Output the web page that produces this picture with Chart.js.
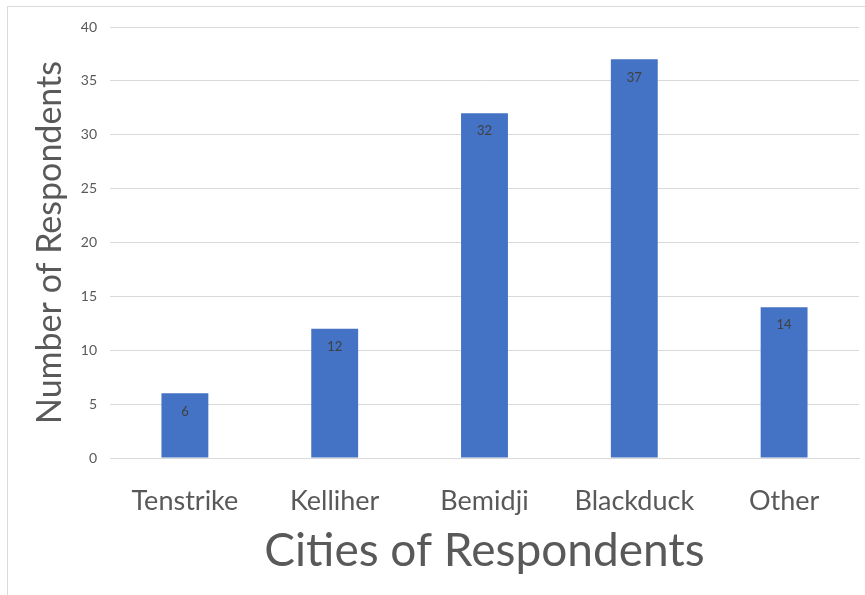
<!DOCTYPE html>
<html>
<head>
<meta charset="utf-8">
<script src="https://cdn.jsdelivr.net/npm/chart.js@4/dist/chart.umd.min.js"></script>
<style>
  html, body { margin: 0; padding: 0; background: #fff; }
  #wrap { width: 865px; height: 595px; position: relative; }
</style>
</head>
<body>
<div id="wrap"><canvas id="chart" width="865" height="595"></canvas></div>
<script>
const cities = ['Tenstrike', 'Kelliher', 'Bemidji', 'Blackduck', 'Other'];
const respondents = [6, 12, 32, 37, 14];
const yTicks = [0, 5, 10, 15, 20, 25, 30, 35, 40];

const FONT = "Lato, 'Open Sans', sans-serif";

// light frame round the chart, like the spreadsheet chart box
const framePlugin = {
    id: 'frame',
    beforeDraw(chart) {
        const ctx = chart.ctx;
        ctx.save();
        ctx.strokeStyle = '#d9d9d9';
        ctx.lineWidth = 1;
        ctx.strokeRect(7.5, 6.5, 900, 600);
        ctx.restore();
    }
};

// value labels just inside the top of each bar
const barLabels = {
    id: 'barLabels',
    afterDatasetsDraw(chart) {
        const ctx = chart.ctx;
        const meta = chart.getDatasetMeta(0);
        ctx.save();
        ctx.font = '13px ' + FONT;
        ctx.fillStyle = '#404040';
        ctx.textAlign = 'center';
        ctx.textBaseline = 'middle';
        meta.data.forEach((bar, i) => {
            ctx.fillText(respondents[i], bar.x, bar.y + 18);
        });
        ctx.restore();
    }
};

new Chart(document.getElementById('chart'), {
    type: 'bar',
    data: {
        labels: cities,
        datasets: [{
            label: 'Respondents',
            data: respondents,
            backgroundColor: '#4472C4',
            barPercentage: 0.313,
            categoryPercentage: 1
        }]
    },
    options: {
        responsive: false,
        animation: false,
        layout: { padding: { top: 27, right: 6, left: 0, bottom: 0 } },
        plugins: {
            legend: { display: false },
            tooltip: { enabled: false }
        },
        scales: {
            x: {
                grid: { display: false },
                border: { display: true, color: '#d9d9d9' },
                ticks: { color: '#595959', font: { family: FONT, size: 27 }, padding: 19 },
                title: {
                    display: true,
                    text: 'Cities of Respondents',
                    color: '#595959',
                    font: { family: FONT, size: 46 },
                    padding: { bottom: 16 }
                },
                afterFit(scale) { scale.height = 137; }
            },
            y: {
                min: 0,
                max: 40,
                afterBuildTicks(scale) { scale.ticks = yTicks.map(v => ({ value: v })); },
                grid: { color: '#d9d9d9', drawTicks: false },
                border: { display: false },
                ticks: { color: '#595959', font: { family: FONT, size: 14 }, padding: 13 },
                title: {
                    display: true,
                    text: 'Number of Respondents',
                    color: '#595959',
                    font: { family: FONT, size: 34 },
                    padding: { top: 30 }
                },
                afterFit(scale) { scale.width = 110; }
            }
        }
    },
    plugins: [framePlugin, barLabels]
});
</script>
</body>
</html>
